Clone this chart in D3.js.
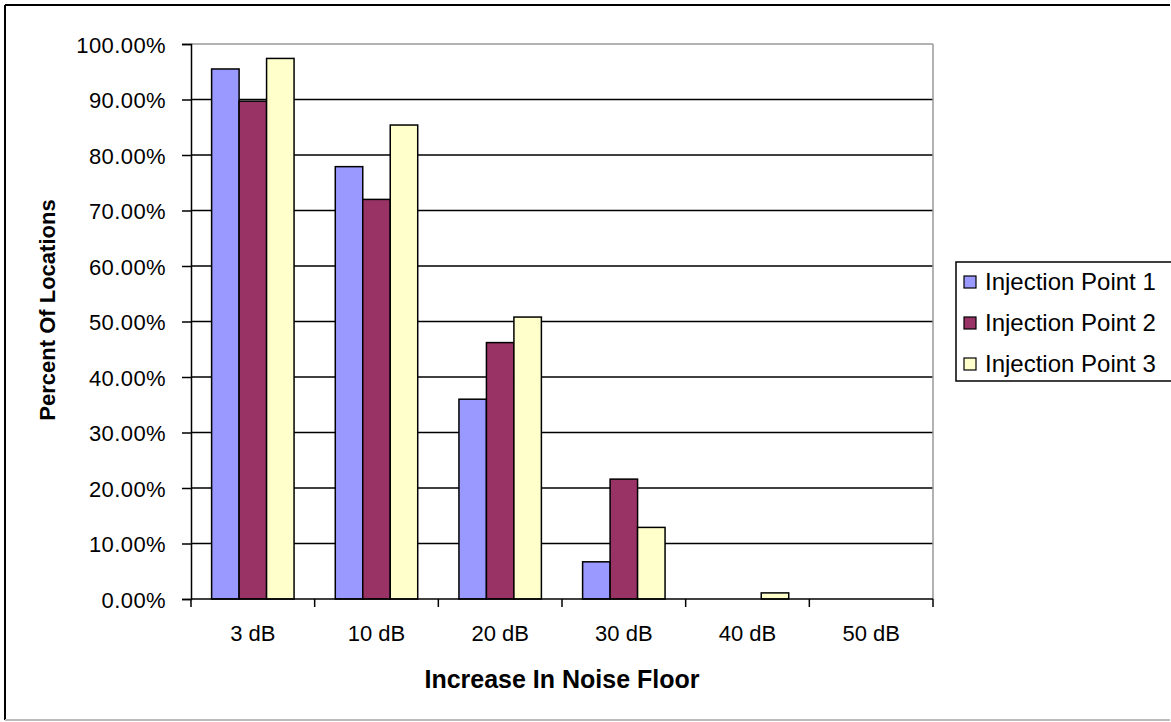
<!DOCTYPE html>
<html>
<head>
<meta charset="utf-8">
<script src="https://cdn.jsdelivr.net/npm/d3@7"></script>
<style>
  html, body { margin: 0; padding: 0; background: #fff; }
  svg { display: block; }
  text { font-family: "Liberation Sans", Arial, sans-serif; fill: #000; }
</style>
</head>
<body>
<svg id="chart" width="1171" height="722"></svg>
<script>
const categories = ["3 dB", "10 dB", "20 dB", "30 dB", "40 dB", "50 dB"];
const seriesNames = ["Injection Point 1", "Injection Point 2", "Injection Point 3"];
const point1 = [0.955, 0.779, 0.360, 0.067, 0.000, 0.000];
const point2 = [0.897, 0.720, 0.462, 0.216, 0.000, 0.000];
const point3 = [0.974, 0.854, 0.508, 0.129, 0.011, 0.000];
const seriesColors = ["#9999FF", "#993366", "#FFFFCC"];
const yTicks = [0, 0.1, 0.2, 0.3, 0.4, 0.5, 0.6, 0.7, 0.8, 0.9, 1.0];

const seriesValues = [point1, point2, point3];

const svg = d3.select("#chart");
const W = 1171, H = 722;

// outer chart border
svg.append("line").attr("x1", 5).attr("y1", 5).attr("x2", W - 1).attr("y2", 5).attr("stroke", "#000").attr("stroke-width", 2);
svg.append("line").attr("x1", 5).attr("y1", 5).attr("x2", 5).attr("y2", 720).attr("stroke", "#000").attr("stroke-width", 2);
svg.append("line").attr("x1", 5).attr("y1", 720).attr("x2", W - 1).attr("y2", 720).attr("stroke", "#bbb").attr("stroke-width", 2);

const plot = { left: 191, right: 933, top: 44, bottom: 599 };

const x0 = d3.scaleBand().domain(categories).range([plot.left, plot.right]).paddingInner(0).paddingOuter(0);
const x1 = d3.scaleBand().domain(d3.range(seriesNames.length)).range([0, x0.bandwidth()]).paddingInner(0).paddingOuter(0.75);
const y = d3.scaleLinear().domain([0, 1]).range([plot.bottom, plot.top]);

// gridlines
svg.append("g").selectAll("line").data(yTicks.filter(d => d > 0)).join("line")
  .attr("x1", plot.left).attr("x2", plot.right)
  .attr("y1", d => y(d)).attr("y2", d => y(d))
  .attr("stroke", d => d === 1 ? "#999" : "#000")
  .attr("stroke-width", 1.5);

// plot area right border
svg.append("line").attr("x1", plot.right).attr("x2", plot.right).attr("y1", plot.top).attr("y2", plot.bottom)
  .attr("stroke", "#999").attr("stroke-width", 1.5);

// bars
const groups = svg.append("g").selectAll("g").data(categories).join("g")
  .attr("transform", c => `translate(${x0(c)},0)`);
groups.selectAll("rect").data((c, i) => seriesValues.map((s, k) => ({ k, v: s[i] }))).join("rect")
  .filter(d => d.v > 0)
  .attr("x", d => x1(d.k))
  .attr("width", x1.bandwidth())
  .attr("y", d => y(d.v))
  .attr("height", d => y(0) - y(d.v))
  .attr("fill", d => seriesColors[d.k])
  .attr("stroke", "#000")
  .attr("stroke-width", 1.5);

// y axis
const yAxis = d3.axisLeft(y).tickValues(yTicks).tickFormat(d3.format(".2%")).tickSize(9).tickPadding(16);
const gy = svg.append("g").attr("transform", `translate(${plot.left},0)`).call(yAxis);
gy.select(".domain").attr("stroke", "#000").attr("stroke-width", 1.5);
gy.selectAll(".tick line").attr("stroke", "#000").attr("stroke-width", 1.5);
gy.selectAll(".tick text").style("font-size", "22px").style("letter-spacing", "0.4px").attr("dy", "0.38em");

// x axis: labels at centers, ticks at category boundaries
const xAxis = d3.axisBottom(x0).tickSize(0).tickPadding(26);
const gx = svg.append("g").attr("transform", `translate(0,${plot.bottom})`).call(xAxis);
gx.select(".domain").remove();
gx.selectAll(".tick text").style("font-size", "22px").attr("dy", "0.71em");
svg.append("line").attr("x1", plot.left).attr("x2", plot.right).attr("y1", y(0)).attr("y2", y(0))
  .attr("stroke", "#000").attr("stroke-width", 1.5);
const boundaries = categories.map(c => x0(c)).concat([x0(categories[categories.length - 1]) + x0.bandwidth()]);
svg.append("g").selectAll("line").data(boundaries).join("line")
  .attr("x1", d => d).attr("x2", d => d)
  .attr("y1", y(0)).attr("y2", y(0) + 8)
  .attr("stroke", "#000").attr("stroke-width", 1.5);

// axis titles
svg.append("text")
  .attr("x", (plot.left + plot.right) / 2).attr("y", 688)
  .attr("text-anchor", "middle")
  .style("font-size", "25px").style("font-weight", "bold")
  .text("Increase In Noise Floor");
svg.append("text")
  .attr("transform", "translate(55,310) rotate(-90)")
  .attr("text-anchor", "middle")
  .style("font-size", "22px").style("font-weight", "bold")
  .text("Percent Of Locations");

// legend
const legend = svg.append("g").attr("transform", "translate(956,262)");
legend.append("rect").attr("x", 0).attr("y", 0).attr("width", 230).attr("height", 119)
  .attr("fill", "#fff").attr("stroke", "#000").attr("stroke-width", 1.5);
const items = legend.selectAll("g").data(seriesNames).join("g")
  .attr("transform", (d, i) => `translate(0,${28 + i * 41})`);
items.append("rect").attr("x", 8).attr("y", -14).attr("width", 12).attr("height", 12)
  .attr("fill", (d, i) => seriesColors[i]).attr("stroke", "#000").attr("stroke-width", 1.2);
items.append("text").attr("x", 29).attr("y", 0)
  .style("font-size", "24px").text(d => d);
</script>
</body>
</html>
